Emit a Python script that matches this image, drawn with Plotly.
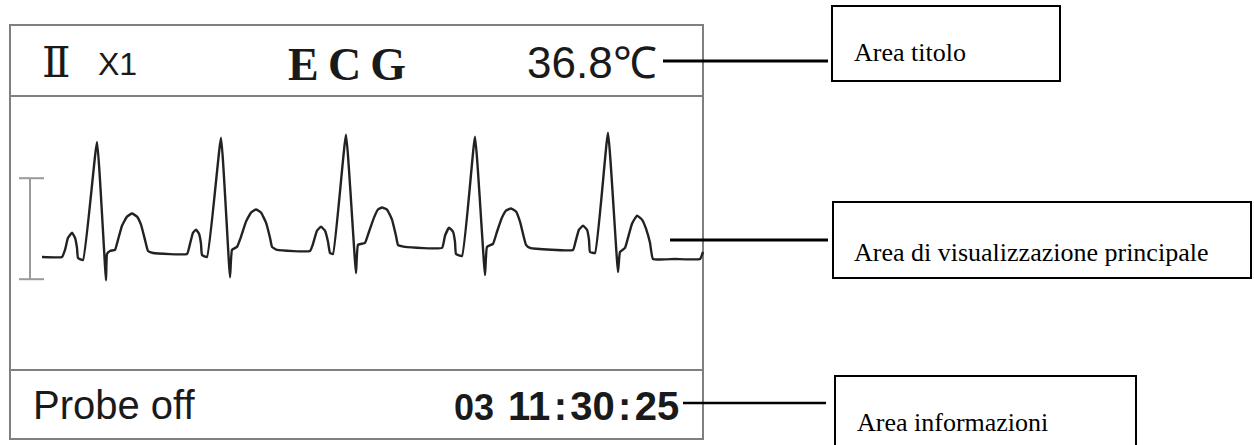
import plotly.graph_objects as go

# ---- data ----------------------------------------------------------------
# ECG trace: time (s) vs amplitude (mV)
ECG_T = [
    0.000, 0.160, 0.184, 0.208, 0.240, 0.264, 0.280, 0.288, 0.328, 0.440,
    0.512, 0.520, 0.544, 0.584, 0.608, 0.640, 0.680, 0.720, 0.760, 0.792,
    0.824, 0.848, 0.888, 1.160,
    1.184, 1.208, 1.232, 1.256, 1.272, 1.280, 1.320, 1.432, 1.504, 1.520,
    1.560, 1.592, 1.632, 1.672, 1.712, 1.752, 1.792, 1.824, 1.840, 1.880, 2.144,
    2.168, 2.200, 2.232, 2.264, 2.288, 2.304, 2.328, 2.432, 2.512, 2.528,
    2.584, 2.616, 2.656, 2.688, 2.720, 2.760, 2.800, 2.832, 2.848, 2.904, 3.200,
    3.224, 3.256, 3.288, 3.304, 3.312, 3.360, 3.464, 3.544, 3.560, 3.608,
    3.640, 3.680, 3.712, 3.752, 3.792, 3.824, 3.856, 3.872, 3.904, 4.248,
    4.272, 4.296, 4.328, 4.360, 4.376, 4.384, 4.424, 4.528, 4.608, 4.624,
    4.664, 4.688, 4.720, 4.760, 4.800, 4.832, 4.864, 4.888, 5.064, 5.264, 5.288,
]
ECG_MV = [
    0.01, 0.01, 0.08, 0.20, 0.25, 0.20, 0.10, 0.00, -0.02, 1.15,
    -0.22, 0.04, 0.07, 0.08, 0.18, 0.32, 0.41, 0.44, 0.41, 0.33,
    0.18, 0.07, 0.05, 0.04,
    0.14, 0.25, 0.28, 0.24, 0.14, 0.03, 0.01, 1.19, -0.19, 0.08,
    0.11, 0.21, 0.36, 0.45, 0.48, 0.45, 0.35, 0.20, 0.11, 0.08, 0.07,
    0.14, 0.27, 0.31, 0.27, 0.16, 0.05, 0.04, 1.22, -0.15, 0.13,
    0.15, 0.26, 0.40, 0.48, 0.50, 0.48, 0.38, 0.22, 0.13, 0.11, 0.10,
    0.22, 0.30, 0.26, 0.16, 0.04, 0.02, 1.20, -0.17, 0.11, 0.14,
    0.26, 0.40, 0.47, 0.49, 0.46, 0.36, 0.20, 0.13, 0.10, 0.08,
    0.18, 0.28, 0.32, 0.28, 0.18, 0.06, 0.05, 1.24, -0.14, 0.06,
    0.10, 0.20, 0.34, 0.42, 0.38, 0.29, 0.15, -0.01, -0.01, -0.01, 0.06,
]
CAL_MV = [-0.21, 0.79]          # 1 mV calibration pulse

LEAD = "Ⅱ"
GAIN = "X1"
MODE = "E\u2009C\u2009G"
TEMP = "36.8℃"
STATUS = "Probe off"
COUNT = "03"
CLOCK = "11\u200a:\u200a30\u200a:\u200a25"
CALLOUTS = ["Area titolo", "Area di visualizzazione principale", "Area informazioni"]

# ---- style ---------------------------------------------------------------
W, H = 1254, 445
GREY = "#808080"
INK = "#1a1a1a"
SANS = "Liberation Sans, Arial, sans-serif"
SERIF = "Liberation Serif, Times New Roman, serif"

fig = go.Figure()
fig.add_trace(go.Scatter(
    x=ECG_T, y=ECG_MV, mode="lines", xaxis="x2", yaxis="y2",
    line=dict(color="#222222", width=2.4, shape="spline", smoothing=0.35),
    hoverinfo="skip", showlegend=False,
))

shapes = [
    # monitor frame + separators
    dict(type="rect", x0=10, x1=703, y0=25, y1=439, line=dict(color=GREY, width=2)),
    dict(type="line", x0=10, x1=703, y0=96, y1=96, line=dict(color=GREY, width=2)),
    dict(type="line", x0=10, x1=703, y0=370, y1=370, line=dict(color=GREY, width=2)),
    # callout leaders
    dict(type="line", x0=663, x1=828, y0=61, y1=61, line=dict(color="black", width=3)),
    dict(type="line", x0=670, x1=828, y0=240, y1=240, line=dict(color="black", width=3)),
    dict(type="line", x0=683, x1=826, y0=403, y1=403, line=dict(color="black", width=2.5)),
    # callout boxes
    dict(type="rect", x0=832, x1=1060, y0=6, y1=81, line=dict(color="black", width=2)),
    dict(type="rect", x0=833, x1=1251, y0=202, y1=278, line=dict(color="black", width=2)),
    dict(type="rect", x0=835, x1=1136, y0=376, y1=460, line=dict(color="black", width=2)),
]
for s in shapes:
    s.update(xref="x", yref="y", layer="below")

# calibration bar, drawn in ECG units
cal = dict(color="#9a9a9a", width=2)
shapes += [
    dict(type="line", xref="x2", yref="y2", x0=-0.096, x1=-0.096, y0=CAL_MV[0], y1=CAL_MV[1], line=cal),
    dict(type="line", xref="x2", yref="y2", x0=-0.184, x1=0.016, y0=CAL_MV[1], y1=CAL_MV[1], line=cal),
    dict(type="line", xref="x2", yref="y2", x0=-0.184, x1=0.016, y0=CAL_MV[0], y1=CAL_MV[0], line=cal),
]


def label(text, x, y, size, family=SANS, anchor="left", color=INK):
    return dict(text=text, x=x, y=y, xref="x", yref="y", showarrow=False,
                xanchor=anchor, yanchor="middle", font=dict(size=size, family=family, color=color))


annotations = [
    label(LEAD, 40, 62, 42, family="DejaVu Serif, serif"),
    label(GAIN, 96, 64, 32),
    label(f"<b>{MODE}</b>", 347, 64, 46, family=SERIF, anchor="center"),
    label(TEMP, 659, 62, 44, anchor="right"),
    label(STATUS, 31, 405, 40),
    label(f"<b>{COUNT}</b>", 452, 407, 36),
    label(f"<b>{CLOCK}</b>", 681, 406, 40, anchor="right"),
    label(CALLOUTS[0], 852, 52, 26, family=SERIF, color="black"),
    label(CALLOUTS[1], 852, 252, 26, family=SERIF, color="black"),
    label(CALLOUTS[2], 855, 422, 26, family=SERIF, color="black"),
]

hidden = dict(visible=False, showgrid=False, zeroline=False, fixedrange=True)
fig.update_layout(
    width=W, height=H,
    margin=dict(l=0, r=0, t=0, b=0),
    paper_bgcolor="white", plot_bgcolor="white",
    # page pixels
    xaxis=dict(range=[0, W], domain=[0, 1], **hidden),
    yaxis=dict(range=[H, 0], domain=[0, 1], **hidden),
    # ECG axes: 125 px per second, 101 px per mV, baseline at y=258 px
    xaxis2=dict(range=[-0.336, 9.696], overlaying="x", anchor="y2", **hidden),
    yaxis2=dict(range=[-1.8515, 2.5545], overlaying="y", anchor="x2", **hidden),
    shapes=shapes,
    annotations=annotations,
    showlegend=False,
)

# drop the default page margin so page pixels line up with the figure
fig.write_html(
    "out.html",
    config=dict(displayModeBar=False),
    post_script="document.body.style.margin='0';document.body.style.overflow='hidden';",
)
